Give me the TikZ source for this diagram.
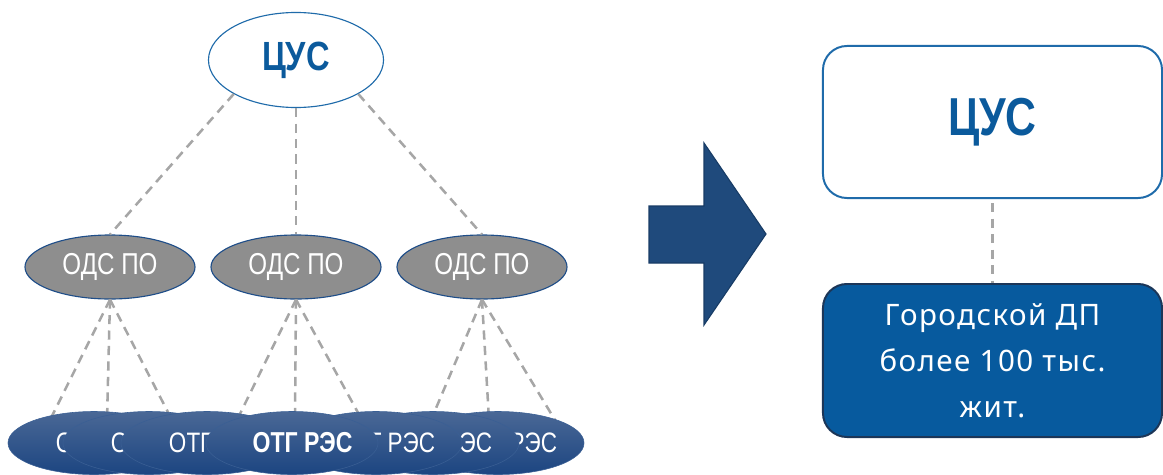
\documentclass[tikz,border=0pt]{standalone}
\usepackage{fontspec}
\setmainfont{Liberation Sans}
\newfontfamily\narrowsf[FakeStretch=0.8]{Liberation Sans}
\newfontfamily\boxsf[LetterSpace=5]{Noto Sans}
\usetikzlibrary{shapes.geometric}

\definecolor{cusblue}{HTML}{0B5A9C}
\definecolor{cusline}{HTML}{1F6BAA}
\definecolor{odsgray}{HTML}{8E8E8E}
\definecolor{odsline}{HTML}{1F4E89}
\definecolor{dashgray}{HTML}{A6A6A6}
\definecolor{otgtop}{HTML}{4A6896}
\definecolor{otgbot}{HTML}{1C4581}
\definecolor{otgline}{HTML}{3A5F94}
\definecolor{arrowblue}{HTML}{1F4A7C}
\definecolor{arrowline}{HTML}{183C66}
\definecolor{gdpblue}{HTML}{075A9E}
\definecolor{gdpline}{HTML}{1C3658}

\begin{document}
\begin{tikzpicture}[x=0.025cm,y=-0.025cm,
  link/.style={draw=dashgray,line width=1.8pt,dash pattern=on 6.5pt off 4.5pt},
  cusnode/.style={ellipse,draw=cusline,line width=0.8pt,fill=white,text=cusblue,
    minimum width=4.375cm,minimum height=2.375cm,inner sep=0pt,
    font=\narrowsf\bfseries\fontsize{29}{29}\selectfont},
  odsnode/.style={ellipse,draw=odsline,line width=0.8pt,fill=odsgray,text=white,
    minimum width=4.25cm,minimum height=1.6cm,inner sep=0pt,
    font=\narrowsf\fontsize{21.5}{21.5}\selectfont},
  otgnode/.style={ellipse,draw=otgline,line width=0.4pt,top color=otgtop,
    bottom color=otgbot,text=white,minimum width=4.3cm,minimum height=1.575cm,
    inner sep=0pt,font=\narrowsf\fontsize{20}{20}\selectfont,
    execute at begin node=\hspace*{15pt}},
  boxnode/.style={rectangle,rounded corners=0.6cm,line width=1.4pt,
    minimum width=8.475cm,inner sep=0pt}]
\useasboundingbox (0,0) rectangle (1163,474);

% old scheme
\node[cusnode] (cus) at (296,60) {ЦУС};
\node[odsnode] (ods1) at (110,267) {ОДС ПО};
\node[odsnode] (ods2) at (296,267) {ОДС ПО};
\node[odsnode] (ods3) at (482,267) {ОДС ПО};
\draw[link] (cus.south west) -- (ods1.north);
\draw[link] (cus.south) -- (ods2.north);
\draw[link] (cus.south east) -- (ods3.north);

\foreach \x [count=\i] in {50,107,172,237,295,362,431,489,555}
  \coordinate (e\i) at (\x,420);
\foreach \i in {1,2,3}
  \draw[link] (ods1.south) -- (e\i);
\foreach \i in {4,5,6}
  \draw[link] (ods2.south) -- (e\i);
\foreach \i in {7,8,9}
  \draw[link] (ods3.south) -- (e\i);

\node[otgnode] (otg1) at (94,443) {ОТГ РЭС};
\node[otgnode] (otg2) at (149,443) {ОТГ РЭС};
\node[otgnode] (otg3) at (207,443) {ОТГ РЭС};
\node[otgnode] (otg7) at (498,443) {ОТГ РЭС};
\node[otgnode] (otg6) at (433,443) {ОТГ РЭС};
\node[otgnode] (otg5) at (376,443) {ОТГ РЭС};
\node[otgnode,font=\narrowsf\bfseries\fontsize{20.5}{20.5}\selectfont] (otg4)
  at (292,443) {ОТГ РЭС};

% arrow
\filldraw[fill=arrowblue,draw=arrowline,line width=0.8pt]
  (649,206) -- (704,206) -- (704,143) -- (766,234) -- (704,325)
  -- (704,263) -- (649,263) -- cycle;

% new scheme
\node[boxnode,draw=cusline,fill=white,text=cusblue,minimum height=3.8cm,
  font=\narrowsf\bfseries\fontsize{38}{38}\selectfont] (cusr) at (992.5,122) {ЦУС};
\node[boxnode,draw=gdpline,fill=gdpblue,text=white,minimum height=3.825cm,
  align=center,font=\boxsf\fontsize{21}{32.7}\selectfont] (gdp) at (992.5,360.5)
  {Городской ДП\\более 100 тыс.\\жит.};
\draw[link,shorten <=3pt] (cusr.south) -- (gdp.north);
\end{tikzpicture}
\end{document}
